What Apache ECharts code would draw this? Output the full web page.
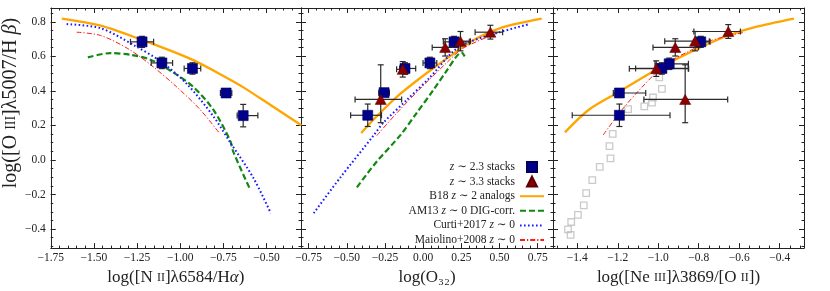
<!DOCTYPE html>
<html><head><meta charset="utf-8">
<script src="https://cdn.jsdelivr.net/npm/echarts@6/dist/echarts.min.js"></script>
<style>html,body{margin:0;padding:0;background:#fff}#c{width:830px;height:291px}</style>
</head><body><div id="c"></div><script>
// ---- tick labels ----
const n2Ticks = [-1.75, -1.5, -1.25, -1.0, -0.75, -0.5];
const o32Ticks = [-0.75, -0.5, -0.25, 0, 0.25, 0.5, 0.75];
const ne3Ticks = [-1.4, -1.2, -1.0, -0.8, -0.6, -0.4];
const yTicks = [-0.4, -0.2, 0, 0.2, 0.4, 0.6, 0.8];

// ---- stacks: [x, y, xErrLo, xErrHi, yErrLo, yErrHi] ----
const z23_n2 = [
  [-1.221, 0.684, 0.067, 0.067, 0.032, 0.032],
  [-1.106, 0.562, 0.062, 0.062, 0.033, 0.033],
  [-0.929, 0.530, 0.048, 0.048, 0.033, 0.033],
  [-0.734, 0.388, 0.033, 0.033, 0.015, 0.015],
  [-0.635, 0.257, 0.035, 0.085, 0.065, 0.065]
];
const z23_o32 = [
  [0.202, 0.684, 0.07, 0.10, 0.032, 0.032],
  [0.044, 0.562, 0.045, 0.045, 0.033, 0.033],
  [-0.119, 0.530, 0.035, 0.07, 0.033, 0.033],
  [-0.256, 0.390, 0.035, 0.035, 0.015, 0.015],
  [-0.363, 0.259, 0.112, 0.09, 0.065, 0.065]
];
const z33_o32 = [
  [-0.278, 0.351, 0.168, 0.137, 0.135, 0.20],
  [-0.134, 0.525, 0.04, 0.04, 0.045, 0.045],
  [0.144, 0.652, 0.085, 0.085, 0.05, 0.05],
  [0.244, 0.688, 0.065, 0.065, 0.056, 0.056],
  [0.440, 0.740, 0.10, 0.08, 0.04, 0.04]
];
const z23_ne3 = [
  [-0.790, 0.684, 0.036, 0.046, 0.032, 0.032],
  [-0.946, 0.557, 0.07, 0.095, 0.033, 0.033],
  [-0.982, 0.530, 0.13, 0.13, 0.033, 0.033],
  [-1.192, 0.388, 0.03, 0.13, 0.015, 0.015],
  [-1.192, 0.259, 0.233, 0.25, 0.065, 0.065]
];
const z33_ne3 = [
  [-0.867, 0.351, 0.204, 0.21, 0.135, 0.20],
  [-1.010, 0.529, 0.133, 0.16, 0.045, 0.045],
  [-0.916, 0.652, 0.11, 0.115, 0.05, 0.05],
  [-0.818, 0.688, 0.15, 0.07, 0.056, 0.056],
  [-0.654, 0.744, 0.17, 0.06, 0.04, 0.04]
];
// gray open squares (Ne3O2 panel)
const grayNe3 = [
  [-0.982, 0.412], [-0.995, 0.478], [-1.026, 0.362], [-1.031, 0.332], [-1.069, 0.310],
  [-1.149, 0.294], [-1.225, 0.151], [-1.241, 0.080], [-1.236, 0.010], [-1.289, -0.040],
  [-1.326, -0.116], [-1.356, -0.192], [-1.368, -0.263], [-1.397, -0.318], [-1.430, -0.359],
  [-1.446, -0.402], [-1.433, -0.434]
];

// ---- calibration curves ----
const b18_n2 = [[-1.686,0.819],[-1.461,0.778],[-1.221,0.695],[-0.931,0.581],[-0.734,0.478],[-0.636,0.422],[-0.481,0.321],[-0.298,0.201]];
const am13_n2 = [[-1.535,0.594],[-1.404,0.619],[-1.288,0.609],[-1.173,0.581],[-1.039,0.506],[-0.923,0.422],[-0.808,0.291],[-0.711,0.113],[-0.692,0.047],[-0.596,-0.168]];
const curti_n2 = [[-1.658,0.787],[-1.461,0.763],[-1.269,0.665],[-1.115,0.572],[-0.961,0.440],[-0.808,0.253],[-0.711,0.103],[-0.577,-0.102],[-0.475,-0.308]];
const maio_n2 = [[-1.600,0.740],[-1.461,0.721],[-1.307,0.647],[-1.173,0.553],[-1.019,0.422],[-0.884,0.291],[-0.769,0.151]];

const b18_o32 = [[-0.406,0.156],[-0.304,0.253],[-0.173,0.366],[0.000,0.488],[0.174,0.600],[0.348,0.703],[0.522,0.769],[0.776,0.819]];
const am13_o32 = [[-0.434,-0.158],[-0.304,-0.009],[-0.152,0.141],[-0.043,0.272],[0.065,0.403],[0.153,0.516],[0.218,0.600],[0.251,0.622],[0.272,0.600]];
const curti_o32 = [[-0.717,-0.308],[-0.543,-0.102],[-0.326,0.141],[-0.261,0.216],[-0.108,0.347],[0.044,0.478],[0.196,0.628],[0.305,0.684],[0.500,0.740],[0.696,0.787]];
const maio_o32 = [[-0.304,0.141],[-0.173,0.272],[0.000,0.431],[0.153,0.562],[0.261,0.647],[0.500,0.740]];

const b18_ne3 = [[-1.461,0.160],[-1.343,0.291],[-1.195,0.394],[-1.015,0.519],[-0.900,0.590],[-0.785,0.656],[-0.654,0.721],[-0.523,0.769],[-0.330,0.819]];
const maio_ne3 = [[-1.272,0.145],[-1.179,0.291],[-1.080,0.422],[-0.966,0.553],[-0.851,0.628],[-0.736,0.693],[-0.572,0.740]];

// ---- names ----
const N_Z23 = 'z ∼ 2.3 stacks', N_Z33 = 'z ∼ 3.3 stacks', N_B18 = 'B18 z ∼ 2 analogs',
      N_AM13 = 'AM13 z ∼ 0 DIG-corr.', N_CURTI = 'Curti+2017 z ∼ 0', N_MAIO = 'Maiolino+2008 z ∼ 0';

const FONT = "'Liberation Serif','DejaVu Serif',serif";
const AX = '#222';
function minorTicks(a, b, step) { const o = []; for (let v = a; v <= b + 1e-9; v += step) o.push(+v.toFixed(3)); return o; }
const fmt2 = v => (v < -1e-9 ? '−' : '') + Math.abs(v).toFixed(2);
const fmt1 = v => (v < -1e-9 ? '−' : '') + Math.abs(v).toFixed(1);
function nameStyle(fs, padding) {
  const s = { fontFamily: FONT, fontSize: fs, color: AX, rich: {
    sc: { fontFamily: FONT, fontSize: Math.round(fs * 0.72), color: AX },
    i: { fontFamily: FONT, fontSize: fs, fontStyle: 'italic', color: AX } } };
  if (padding) s.padding = padding;
  return s;
}

function makeAxes(dim, gi, min, max, majors, minors, fmt, showLabels, name) {
  const pos = dim === 'x' ? ['bottom', 'top'] : ['left', 'right'];
  const axes = [];
  pos.forEach((p, k) => {
    const main = {
      type: 'value', gridIndex: gi, position: p, min, max,
      axisLine: { show: true, onZero: false, lineStyle: { color: AX, width: 1 } },
      axisTick: { show: true, inside: true, length: 5, customValues: majors, lineStyle: { color: AX, width: 1 } },
      axisLabel: (k === 0 && showLabels) ? { show: true, customValues: majors, formatter: fmt, margin: dim === 'x' ? 4 : 5, color: AX, fontFamily: FONT, fontSize: 11.5 } : { show: false },
      splitLine: { show: false }
    };
    if (k === 0 && name) {
      main.name = name; main.nameLocation = 'middle';
      main.nameGap = dim === 'x' ? 18 : 29;
      main.nameTextStyle = dim === 'x' ? nameStyle(17) : nameStyle(20, [0, 0, 0, 50]);
    }
    axes.push(main);
    axes.push({
      type: 'value', gridIndex: gi, position: p, min, max,
      axisLine: { show: false, onZero: false },
      axisTick: { show: true, inside: true, length: 2.5, customValues: minors, lineStyle: { color: AX, width: 1 } },
      axisLabel: { show: false }, splitLine: { show: false }
    });
  });
  return axes;
}

const xAxis = [].concat(
  makeAxes('x', 0, -1.75, -0.3, n2Ticks, minorTicks(-1.75, -0.3, 0.05), fmt2, true, 'log([N {sc|II}]λ6584/H{i|α})'),
  makeAxes('x', 1, -0.8, 0.85, o32Ticks, minorTicks(-0.8, 0.85, 0.05), fmt2, true, 'log(O₃₂)'),
  makeAxes('x', 2, -1.52, -0.28, ne3Ticks, minorTicks(-1.5, -0.3, 0.05), fmt1, true, 'log([Ne {sc|III}]λ3869/[O {sc|II}])')
);
const yMinor = minorTicks(-0.5, 0.85, 0.05);
const yAxis = [].concat(
  makeAxes('y', 0, -0.51, 0.88, yTicks, yMinor, fmt1, true, 'log([O {sc|III}]λ5007/H {i|β})'),
  makeAxes('y', 1, -0.51, 0.88, yTicks, yMinor, fmt1, false, null),
  makeAxes('y', 2, -0.51, 0.88, yTicks, yMinor, fmt1, false, null)
);

function renderErr(params, api) {
  const x = api.value(0), y = api.value(1);
  const pl = api.coord([x - api.value(2), y]), ph = api.coord([x + api.value(3), y]);
  const pb = api.coord([x, y - api.value(4)]), pt = api.coord([x, y + api.value(5)]);
  const cap = 3, st = { stroke: '#2a2a2a', lineWidth: 1.2 };
  const L = (x1, y1, x2, y2) => ({ type: 'line', shape: { x1, y1, x2, y2 }, style: st });
  return { type: 'group', children: [
    L(pl[0], pl[1], ph[0], ph[1]), L(pl[0], pl[1] - cap, pl[0], pl[1] + cap), L(ph[0], ph[1] - cap, ph[0], ph[1] + cap),
    L(pb[0], pb[1], pt[0], pt[1]), L(pb[0] - cap, pb[1], pb[0] + cap, pb[1]), L(pt[0] - cap, pt[1], pt[0] + cap, pt[1])
  ] };
}

const lineDefs = {
  [N_B18]: { color: '#ffa500', width: 2.3, type: 'solid' },
  [N_AM13]: { color: '#118811', width: 2.2, type: [6, 3] },
  [N_CURTI]: { color: '#1a1aff', width: 2, type: [1.6, 2.4] },
  [N_MAIO]: { color: '#ff1a1a', width: 1, type: [5, 2, 1.2, 2] }
};
function lineSeries(name, gi, data) {
  const d = lineDefs[name];
  return { type: 'line', name, xAxisIndex: 4 * gi, yAxisIndex: 4 * gi, data, smooth: 0.3, symbol: 'none',
    lineStyle: { color: d.color, width: d.width, type: d.type }, itemStyle: { color: d.color }, z: 3, silent: true };
}
function errSeries(gi, data) {
  return { type: 'custom', name: 'err' + gi + data.length, xAxisIndex: 4 * gi, yAxisIndex: 4 * gi, renderItem: renderErr,
    encode: { x: 0, y: 1 }, data, z: 4, silent: true };
}
function ptSeries(name, gi, data) {
  const tri = name === N_Z33;
  return { type: 'scatter', name, xAxisIndex: 4 * gi, yAxisIndex: 4 * gi, data: data.map(r => [r[0], r[1]]),
    symbol: tri ? 'triangle' : 'rect', symbolSize: tri ? [11, 10] : 10,
    itemStyle: { color: tri ? '#8b0000' : '#00008b', borderColor: tri ? '#600000' : '#00005a', borderWidth: 0.6, opacity: 1 }, z: 5, silent: true };
}

const series = [
  { type: 'scatter', name: 'gray', xAxisIndex: 8, yAxisIndex: 8, data: grayNe3, symbol: 'rect', symbolSize: 6.5,
    itemStyle: { color: 'rgba(0,0,0,0)', borderColor: '#bdbdbd', borderWidth: 1.3 }, z: 2, silent: true },
  lineSeries(N_B18, 0, b18_n2), lineSeries(N_AM13, 0, am13_n2), lineSeries(N_CURTI, 0, curti_n2), lineSeries(N_MAIO, 0, maio_n2),
  lineSeries(N_B18, 1, b18_o32), lineSeries(N_AM13, 1, am13_o32), lineSeries(N_CURTI, 1, curti_o32), lineSeries(N_MAIO, 1, maio_o32),
  lineSeries(N_B18, 2, b18_ne3), lineSeries(N_MAIO, 2, maio_ne3),
  errSeries(0, z23_n2), errSeries(1, z23_o32), errSeries(1, z33_o32), errSeries(2, z23_ne3), errSeries(2, z33_ne3),
  ptSeries(N_Z23, 0, z23_n2), ptSeries(N_Z23, 1, z23_o32), ptSeries(N_Z33, 1, z33_o32),
  ptSeries(N_Z23, 2, z23_ne3), ptSeries(N_Z33, 2, z33_ne3)
];

const noSym = { color: 'rgba(0,0,0,0)', borderColor: 'rgba(0,0,0,0)', borderWidth: 0, opacity: 0 };
const chart = echarts.init(document.getElementById('c'), null, { renderer: 'canvas' });
chart.setOption({
  animation: false,
  backgroundColor: '#fff',
  grid: [
    { left: 50, top: 8, width: 251, height: 248 },
    { left: 301, top: 8, width: 252, height: 248 },
    { left: 553, top: 8, width: 251, height: 248 }
  ],
  xAxis, yAxis, series,
  legend: {
    orient: 'vertical', align: 'right', right: 285, top: 161, padding: 0,
    itemWidth: 24, itemHeight: 10, itemGap: 2.6,
    data: [
      { name: N_Z23, icon: 'path://M0 0H10V10H0Z' },
      { name: N_Z33, icon: 'path://M5 0L10 10H0Z' },
      { name: N_B18, itemStyle: noSym },
      { name: N_AM13, itemStyle: noSym },
      { name: N_CURTI, itemStyle: noSym },
      { name: N_MAIO, itemStyle: noSym }
    ],
    formatter: n => n.replace(/\bz\b/, '{i|z}'),
    textStyle: { fontFamily: FONT, fontSize: 11.5, color: AX, rich: { i: { fontFamily: FONT, fontSize: 11.5, fontStyle: 'italic', color: AX } } },
    selectedMode: false
  }
});
</script></body></html>
